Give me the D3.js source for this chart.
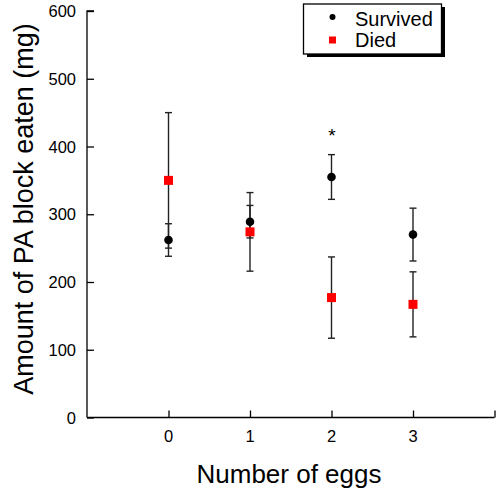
<!DOCTYPE html>
<html><head><meta charset="utf-8">
<script src="https://cdn.jsdelivr.net/npm/d3@7"></script>
<style>body{margin:0;background:#fff}svg{display:block}text{font-family:"Liberation Sans",Arial,sans-serif}</style>
</head><body>
<svg id="c" width="498" height="493"></svg>
<script>
const eggs = [0, 1, 2, 3];
const survivedMean = [262, 289, 355, 270];
const survivedErr = [24, 24, 33, 39];
const diedMean = [350, 274, 177, 167];
const diedErr = [100, 58, 60, 48];
const yTicks = [0, 100, 200, 300, 400, 500, 600];
const xTicks = [-1, 0, 1, 2, 3, 4];
const starGroup = [2];

const svg = d3.select("#c");
const x = d3.scaleLinear().domain([-1, 4]).range([87, 494.5]);
const y = d3.scaleLinear().domain([0, 600]).range([417.5, 11]);

// axes
const yAxis = svg.append("g").attr("transform", "translate(87,0)")
  .call(d3.axisRight(y).tickValues(yTicks).tickSize(7).tickFormat(""));
yAxis.select(".domain").attr("d", `M7,${y(600)}H0V${y(0)}`);
yAxis.selectAll("line,path").attr("stroke", "#000").attr("stroke-width", 1.3);
svg.append("g").selectAll("text").data(yTicks).join("text")
  .attr("x", 76).attr("y", d => y(d) + 6).attr("text-anchor", "end")
  .attr("font-size", 16.5).text(d => d);

const xAxis = svg.append("g").attr("transform", `translate(0,${y(0)})`)
  .call(d3.axisTop(x).tickValues(xTicks).tickSize(7).tickFormat(""));
xAxis.select(".domain").attr("d", `M${x(-1)},0H${x(4)}`);
xAxis.selectAll(".tick").filter(d => d === -1).remove();
xAxis.selectAll("line,path").attr("stroke", "#000").attr("stroke-width", 1.3);
svg.append("g").selectAll("text").data(eggs).join("text")
  .attr("x", d => x(d)).attr("y", 441.5).attr("text-anchor", "middle")
  .attr("font-size", 16.5).text(d => d);

// titles
svg.append("text").attr("x", 289).attr("y", 483).attr("text-anchor", "middle")
  .attr("font-size", 26).text("Number of eggs");
svg.append("text").attr("transform", `translate(33,209) rotate(-90)`)
  .attr("text-anchor", "middle").attr("font-size", 27).text("Amount of PA block eaten (mg)");

// error bars
function errBars(means, errs) {
  const g = svg.append("g").attr("stroke", "#222").attr("stroke-width", 1.4);
  eggs.forEach((e, i) => {
    const cx = x(e), lo = y(means[i] - errs[i]), hi = y(means[i] + errs[i]);
    g.append("line").attr("x1", cx).attr("x2", cx).attr("y1", lo).attr("y2", hi);
    [lo, hi].forEach(v => g.append("line").attr("x1", cx - 3.5).attr("x2", cx + 3.5).attr("y1", v).attr("y2", v));
  });
}
errBars(diedMean, diedErr);
errBars(survivedMean, survivedErr);

svg.append("g").selectAll("rect").data(eggs).join("rect")
  .attr("x", d => x(d) - 4.5).attr("y", (d, i) => y(diedMean[i]) - 4.5)
  .attr("width", 9).attr("height", 9).attr("fill", "#f00");
svg.append("g").selectAll("circle").data(eggs).join("circle")
  .attr("cx", d => x(d)).attr("cy", (d, i) => y(survivedMean[i])).attr("r", 4.3).attr("fill", "#000");

// significance star
svg.append("g").selectAll("text").data(starGroup).join("text")
  .attr("x", d => x(d) + 0.5).attr("y", 142).attr("text-anchor", "middle")
  .attr("font-size", 19).text("*");

// legend
const lg = svg.append("g");
lg.append("rect").attr("x", 307).attr("y", 7).attr("width", 138).attr("height", 50).attr("fill", "#000");
lg.append("rect").attr("x", 303.5).attr("y", 4).attr("width", 138).attr("height", 50)
  .attr("fill", "#fff").attr("stroke", "#000").attr("stroke-width", 1.3);
lg.append("circle").attr("cx", 332.5).attr("cy", 17).attr("r", 3).attr("fill", "#000");
lg.append("rect").attr("x", 329).attr("y", 36.5).attr("width", 7).attr("height", 7).attr("fill", "#f00");
lg.append("text").attr("x", 355).attr("y", 25.5).attr("font-size", 20).text("Survived");
lg.append("text").attr("x", 355).attr("y", 46.5).attr("font-size", 20).text("Died");
</script>
</body></html>
